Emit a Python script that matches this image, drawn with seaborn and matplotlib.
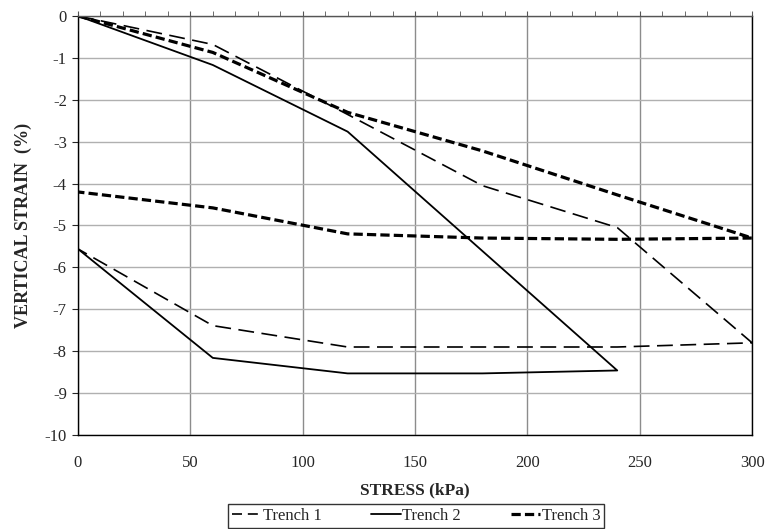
import pandas as pd
import matplotlib
matplotlib.use("Agg")
import matplotlib.pyplot as plt
from matplotlib.ticker import MultipleLocator
from matplotlib.lines import Line2D
import seaborn as sns

# --- DATA (loading and unloading paths) ---
stress_t1 = [0, 60, 120, 180, 240, 300, 240, 180, 120, 60, 0]
strain_t1 = [0, -0.68, -2.35, -4.05, -5.05, -7.8, -7.9, -7.9, -7.9, -7.39, -5.56]

stress_t2 = [0, 60, 120, 240, 180, 120, 60, 0]
strain_t2 = [0, -1.17, -2.76, -8.46, -8.53, -8.53, -8.16, -5.56]

stress_t3 = [0, 60, 120, 180, 240, 300, 240, 180, 120, 60, 0]
strain_t3 = [0, -0.87, -2.3, -3.22, -4.27, -5.3, -5.33, -5.3, -5.2, -4.58, -4.2]

series_names = ["Trench 1", "Trench 2", "Trench 3"]

frames = []
for name, xs, ys in zip(series_names,
                        [stress_t1, stress_t2, stress_t3],
                        [strain_t1, strain_t2, strain_t3]):
    frames.append(pd.DataFrame({"stress": xs, "strain": ys, "series": name}))
df = pd.concat(frames, ignore_index=True)

# --- STYLE ---
sns.set_style("white")
plt.rcParams["font.family"] = ["Liberation Serif", "DejaVu Serif"]
plt.rcParams["axes.unicode_minus"] = False

styles = {
    "Trench 1": dict(lw=1.2, dashes=(9.5, 4.5)),
    "Trench 2": dict(lw=1.3, dashes=None),
    "Trench 3": dict(lw=2.3, dashes=(2.9, 1.3)),
}

fig = plt.figure(figsize=(7.69, 5.29), dpi=100)
ax = fig.add_axes([0.1014, 0.1777, 0.8766, 0.7921])

for name in series_names:
    sub = df[df["series"] == name]
    st = styles[name]
    sns.lineplot(data=sub, x="stress", y="strain", sort=False,
                 estimator=None, color="black", lw=st["lw"], ax=ax)
    if st["dashes"] is not None:
        ax.lines[-1].set_dashes(st["dashes"])

ax.set_xlim(0, 300)
ax.set_ylim(-10, 0)
ax.xaxis.set_major_locator(MultipleLocator(50))
ax.xaxis.set_minor_locator(MultipleLocator(10))
ax.yaxis.set_major_locator(MultipleLocator(1))
ax.grid(True, which="major", axis="x", color="#8c8c8c", lw=1.0)
ax.grid(True, which="major", axis="y", color="#b0b0b0", lw=1.0)
ax.set_axisbelow(True)

for s in ax.spines.values():
    s.set_color("black")
    s.set_linewidth(1.0)
ax.spines["top"].set_color("#555555")

ax.tick_params(axis="x", which="both", top=True, bottom=False,
               labeltop=False, labelbottom=True, direction="out",
               length=3.5, color="#555555", labelsize=12, pad=11)
ax.tick_params(axis="y", which="major", left=True, direction="out",
               length=4, labelsize=12, pad=4)

ax.set_xlabel("STRESS (kPa)", fontsize=12.5, fontweight="bold", labelpad=8)
ax.set_ylabel("VERTICAL STRAIN  (%)", fontsize=13, fontweight="bold", labelpad=9)

handles = []
for name in series_names:
    st = styles[name]
    h = Line2D([], [], color="black", lw=st["lw"])
    if st["dashes"] is not None:
        h.set_dashes(st["dashes"] if name == "Trench 3" else (6, 3.5))
    handles.append(h)

leg = fig.legend(handles, series_names, loc="center",
                 bbox_to_anchor=(0.541, 0.024), ncol=3, frameon=True,
                 fancybox=False, edgecolor="black", fontsize=12,
                 handlelength=1.75, handletextpad=0.1, columnspacing=3.0,
                 borderpad=0.25, borderaxespad=0)
leg.get_frame().set_linewidth(1.0)

fig.savefig("out.png", dpi=100)
